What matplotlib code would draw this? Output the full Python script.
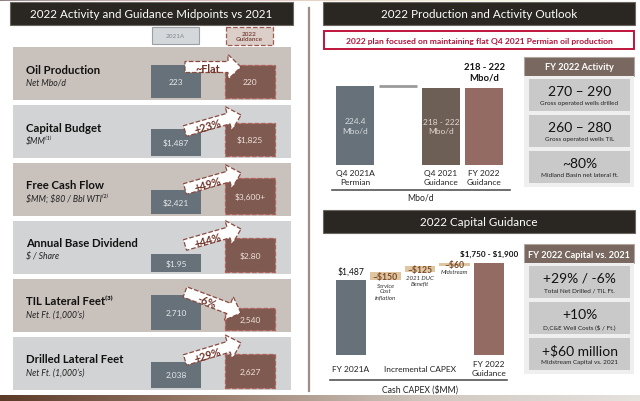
import math

import matplotlib.pyplot as plt
import numpy as np
from matplotlib.colors import LinearSegmentedColormap
from matplotlib.patches import FancyArrow, Rectangle

plt.rcParams["font.family"] = ["Lato", "DejaVu Sans"]
plt.rcParams["text.parse_math"] = False

# left panel: 2021 actuals vs 2022 guidance midpoints
metrics = ["Oil Production", "Capital Budget", "Free Cash Flow",
           "Annual Base Dividend", "TIL Lateral Feet⁽³⁾", "Drilled Lateral Feet"]
metric_units = ["Net Mbo/d", "$MM⁽¹⁾", "$MM; $80 / Bbl WTI⁽²⁾", "$ / Share",
                "Net Ft. (1,000’s)", "Net Ft. (1,000’s)"]
actual_2021 = [223, 1487, 2421, 1.95, 2710, 2038]
guidance_2022 = [220, 1825, 3600, 2.80, 2540, 2627]
actual_2021_text = ["223", "$1,487", "$2,421", "$1.95", "2,710", "2,038"]
guidance_2022_text = ["220", "$1,825", "$3,600+", "$2.80", "2,540", "2,627"]
change_text = ["~Flat", "+23%", "+49%", "+44%", "-6%", "+29%"]

# production outlook (Mbo/d)
prod_labels = ["Q4 2021A\nPermian", "", "Q4 2021\nGuidance", "FY 2022\nGuidance"]
prod_q4_2021 = 224.4
prod_guidance = [220, 220]
prod_range_text = "218 - 222\nMbo/d"

# capital guidance ($MM)
capex_2021 = 1487
capex_steps = [150, 125, 60]
capex_2022 = 1825
capex_step_text = ["~$150", "~$125", "~$60"]
capex_step_notes = ["Service\nCost\nInflation", "2021 DUC\nBenefit", "Midstream"]
capex_labels = ["FY 2021A", "Incremental CAPEX", "FY 2022\nGuidance"]

activity_values = ["270 – 290", "260 – 280", "~80%"]
activity_notes = ["Gross operated wells drilled", "Gross operated wells TIL",
                  "Midland Basin net lateral ft."]
capital_values = ["+29% / -6%", "+10%", "+$60 million"]
capital_notes = ["Total Net Drilled / TIL Ft.", "D,C&E Well Costs ($ / Ft.)",
                 "Midstream Capital vs. 2021"]

W, H = 640, 402
GRAY = "#66717a"
BROWN = "#7e5a50"
DARK = "#2a2722"
TEXT_BROWN = "#6e3328"

fig = plt.figure(figsize=(W / 100, H / 100), dpi=100)
fig.patch.set_facecolor("white")


def px_axes(x0, y0, x1, y1, z=1):
    ax = fig.add_axes([x0 / W, 1 - y1 / H, (x1 - x0) / W, (y1 - y0) / H], zorder=z)
    ax.patch.set_alpha(0)
    return ax


bg = px_axes(0, 0, W, H, z=0)
fg = px_axes(0, 0, W, H, z=10)
fg.set_xlim(0, W)
fg.set_ylim(H, 0)
fg.axis("off")

# top and bottom page strips
strip = LinearSegmentedColormap.from_list("strip", ["#5c3a28", "#9b8070", "#d0c8c0", "#e6e2de"])
grad = np.linspace(0, 1, 256).reshape(1, -1)
bg.imshow(grad, cmap=strip, extent=(0, W, 402, 396), aspect="auto")
bg.imshow(grad, cmap="pink", extent=(0, W, 2, 0), aspect="auto", alpha=0.5)
bg.set_xlim(0, W)
bg.set_ylim(H, 0)
bg.axis("off")


def header(x0, y0, x1, y1, text):
    bg.add_patch(Rectangle((x0, y0), x1 - x0, y1 - y0, fc=DARK, ec="#6b6660", lw=0.8))
    bg.text((x0 + x1) / 2, (y0 + y1) / 2 + 0.5, text, color="white", fontsize=8.4,
            ha="center", va="center")


header(10, 3, 293, 26, "2022 Activity and Guidance Midpoints vs 2021")
header(323, 3, 635, 26, "2022 Production and Activity Outlook")
header(323, 211, 635, 234, "2022 Capital Guidance")

# divider
bg.plot([309, 309], [9, 392], color="#9a8f88", lw=1.6)

# legend boxes
bg.add_patch(Rectangle((152, 28), 47, 17, fc="#d5d8da", ec="#9aa0a5", lw=0.8))
bg.text(175.5, 36.5, "2021A", color="#7f8a90", fontsize=4.6, ha="center", va="center")
bg.add_patch(Rectangle((226, 28), 47, 18, fc="#dccfc9", ec="#9c5a50", lw=0.9, ls="--"))
bg.text(249.5, 37, "2022\nGuidance", color="#7a4a40", fontsize=4.6, ha="center",
        va="center", fontweight="bold", linespacing=1.1)

# left rows
row_base = [0, 0, 0, 0.99, 2252, 0]
row_max_px = [33, 33, 36, 34, 35, 34]
arrow_y = [(20, 20), (26, 10), (26, 10), (24, 8), (13, 34), (23, 6)]
row_colors = ["#c9c1bc", "#d1d3d4"]

for i in range(len(metrics)):
    top = 48 + i * 58
    bottom = top + 51
    bg.add_patch(Rectangle((13, top), 278, 53, fc=row_colors[i % 2], ec="none"))
    bg.text(26, top + 22, metrics[i], fontsize=8.2, fontweight="bold", color="#111111",
            va="center")
    bg.text(26, top + 35, metric_units[i], fontsize=6.2, style="italic", color="#222222",
            va="center")

    ax = px_axes(139, bottom - 45, 287, bottom, z=5)
    base = row_base[i]
    scale = row_max_px[i] / (max(actual_2021[i], guidance_2022[i]) - base)
    ax.set_ylim(base, base + 45 / scale)
    ax.set_xlim(-0.5, 1.5)
    ax.axis("off")
    vals = [actual_2021[i], guidance_2022[i]]
    ax.bar([0], [vals[0] - base], bottom=base, width=0.676, color=GRAY, clip_on=False)
    ax.bar([1], [vals[1] - base], bottom=base, width=0.676, color=BROWN,
           edgecolor="#b0605a", linestyle="--", linewidth=0.9, clip_on=False)
    ax.text(0, (vals[0] + base) / 2, actual_2021_text[i], ha="center", va="center",
            fontsize=6, color="#e6e8ea")
    ax.text(1, (vals[1] + base) / 2, guidance_2022_text[i], ha="center", va="center",
            fontsize=6, color="#f0e2de")

    # change arrow between the two bars
    ty, hy = arrow_y[i]
    x_tail, x_tip = 185, 241
    y_tail, y_tip = top + ty, top + hy
    dx, dy = x_tip - x_tail, y_tip - y_tail
    fg.add_patch(FancyArrow(x_tail, y_tail, dx, dy, width=11, head_width=25,
                            head_length=13, length_includes_head=True, fc="white",
                            ec="#8a4a40", lw=0.9, ls="--"))
    length = math.hypot(dx, dy)
    ux, uy = dx / length, dy / length
    ang = math.degrees(math.atan2(-dy, dx))
    tx = x_tail + 0.4 * dx - uy * 1.2
    ty_txt = y_tail + 0.4 * dy + ux * 1.2
    fg.text(tx, ty_txt, change_text[i], rotation=ang,
            rotation_mode="anchor", ha="center", va="center", fontsize=7.8,
            fontweight="bold", color=TEXT_BROWN)

# red message box
bg.add_patch(Rectangle((324, 32), 310, 18, fc="white", ec="#c0143c", lw=1.4))
bg.text(479, 41.5, "2022 plan focused on maintaining flat Q4 2021 Permian oil production",
        color="#b0143a", fontsize=6.1, fontweight="bold", ha="center", va="center")

# production bars
pax = px_axes(333.5, 60, 505.5, 166, z=5)
pax.set_xlim(-0.5, 3.5)
pax.set_ylim(0, 106 * prod_q4_2021 / 79)
pax.bar([0], [prod_q4_2021], width=0.88, color=GRAY)
pax.hlines(prod_q4_2021, 0.56, 1.44, color="#9a9a9a", lw=2)
pax.bar([2, 3], prod_guidance, width=0.88, color=["#6e5f56", "#946b62"])
pax.text(0, prod_q4_2021 / 2, f"{prod_q4_2021}\nMbo/d", ha="center", va="center",
         fontsize=6, color="#d8dcdf", linespacing=1.4)
pax.text(2, prod_guidance[0] / 2, prod_range_text, ha="center", va="center",
         fontsize=6, color="#e0d6d0", linespacing=1.4)
pax.annotate(prod_range_text, (3, prod_guidance[1]), xytext=(0, 4),
             textcoords="offset points", ha="center", va="bottom", fontsize=6.8,
             fontweight="bold", color="#111111", linespacing=1.3)
pax.set_xticks(range(4))
pax.set_xticklabels(prod_labels, fontsize=6, color="#222222", linespacing=1.35)
for lbl in pax.get_xticklabels():
    lbl.set_va("center")
pax.tick_params(length=0, pad=8.6)
for s in pax.spines.values():
    s.set_visible(False)
pax.set_yticks([])
bg.plot([332, 510], [191, 191], color="#555555", lw=1.2)
bg.text(421, 198, "Mbo/d", fontsize=6.2, ha="center", va="center", color="#222222")

# capex waterfall
cax = px_axes(333.75, 246, 506.25, 356, z=5)
cax.set_xlim(-0.5, 4.5)
cax.set_ylim(0, 110 * capex_2021 / 75)
step_bottoms = capex_2021 + np.concatenate([[0], np.cumsum(capex_steps)[:-1]])
cax.bar([0], [capex_2021], width=0.87, color=GRAY)
cax.bar([1, 2, 3], capex_steps, bottom=step_bottoms, width=0.87, color="#dfc6a0")
cax.bar([4], [capex_2022], width=0.87, color="#946b62")
cax.annotate(f"${capex_2021:,}", (0, capex_2021), xytext=(0, 3), textcoords="offset points",
             ha="center", va="bottom", fontsize=6.2, color="#111111")
cax.annotate("$1,750 - $1,900", (4, capex_2022), xytext=(0, 4), textcoords="offset points",
             ha="center", va="bottom", fontsize=5.9, fontweight="bold", color="#111111")
for k in range(3):
    mid = step_bottoms[k] + capex_steps[k] / 2
    cax.text(k + 1, mid, capex_step_text[k], ha="center", va="center", fontsize=6.2,
             fontweight="bold", color="#7b4a2c")
    cax.annotate(capex_step_notes[k], (k + 1, step_bottoms[k]), xytext=(0, -2),
                 textcoords="offset points", ha="center", va="top", fontsize=4.4,
                 style="italic", color="#333333", linespacing=1.15)
cax.set_xticks([0, 2, 4])
cax.set_xticklabels(capex_labels, fontsize=6, color="#222222", linespacing=1.35)
for lbl in cax.get_xticklabels():
    lbl.set_va("center")
cax.tick_params(length=0, pad=9.4)
for s in cax.spines.values():
    s.set_visible(False)
cax.set_yticks([])
bg.plot([330, 507], [381, 381], color="#555555", lw=1.2)
bg.text(420, 390, "Cash CAPEX ($MM)", fontsize=6.2, ha="center", va="center", color="#222222")


def side_box(top, title, values, notes):
    bg.add_patch(Rectangle((524, top), 110, 19, fc="#786860", ec="#b0a69f", lw=0.8))
    bg.text(579, top + 10, title, color="white", fontsize=6.6, fontweight="bold",
            ha="center", va="center")
    bg.add_patch(Rectangle((524, top + 19), 110, 111, fc="#efefef", ec="none"))
    for j in range(3):
        y0 = top + 22 + j * 36
        bg.add_patch(Rectangle((529, y0), 101, 32, fc="#c9c9c9", ec="none"))
        bg.text(579.5, y0 + 12, values[j], fontsize=10, color="#111111",
                ha="center", va="center")
        bg.text(579.5, y0 + 24, notes[j], fontsize=4.6, color="#222222",
                ha="center", va="center")


side_box(58, "FY 2022 Activity", activity_values, activity_notes)
side_box(245, "FY 2022 Capital vs. 2021", capital_values, capital_notes)

fig.savefig("out.png", dpi=100)
